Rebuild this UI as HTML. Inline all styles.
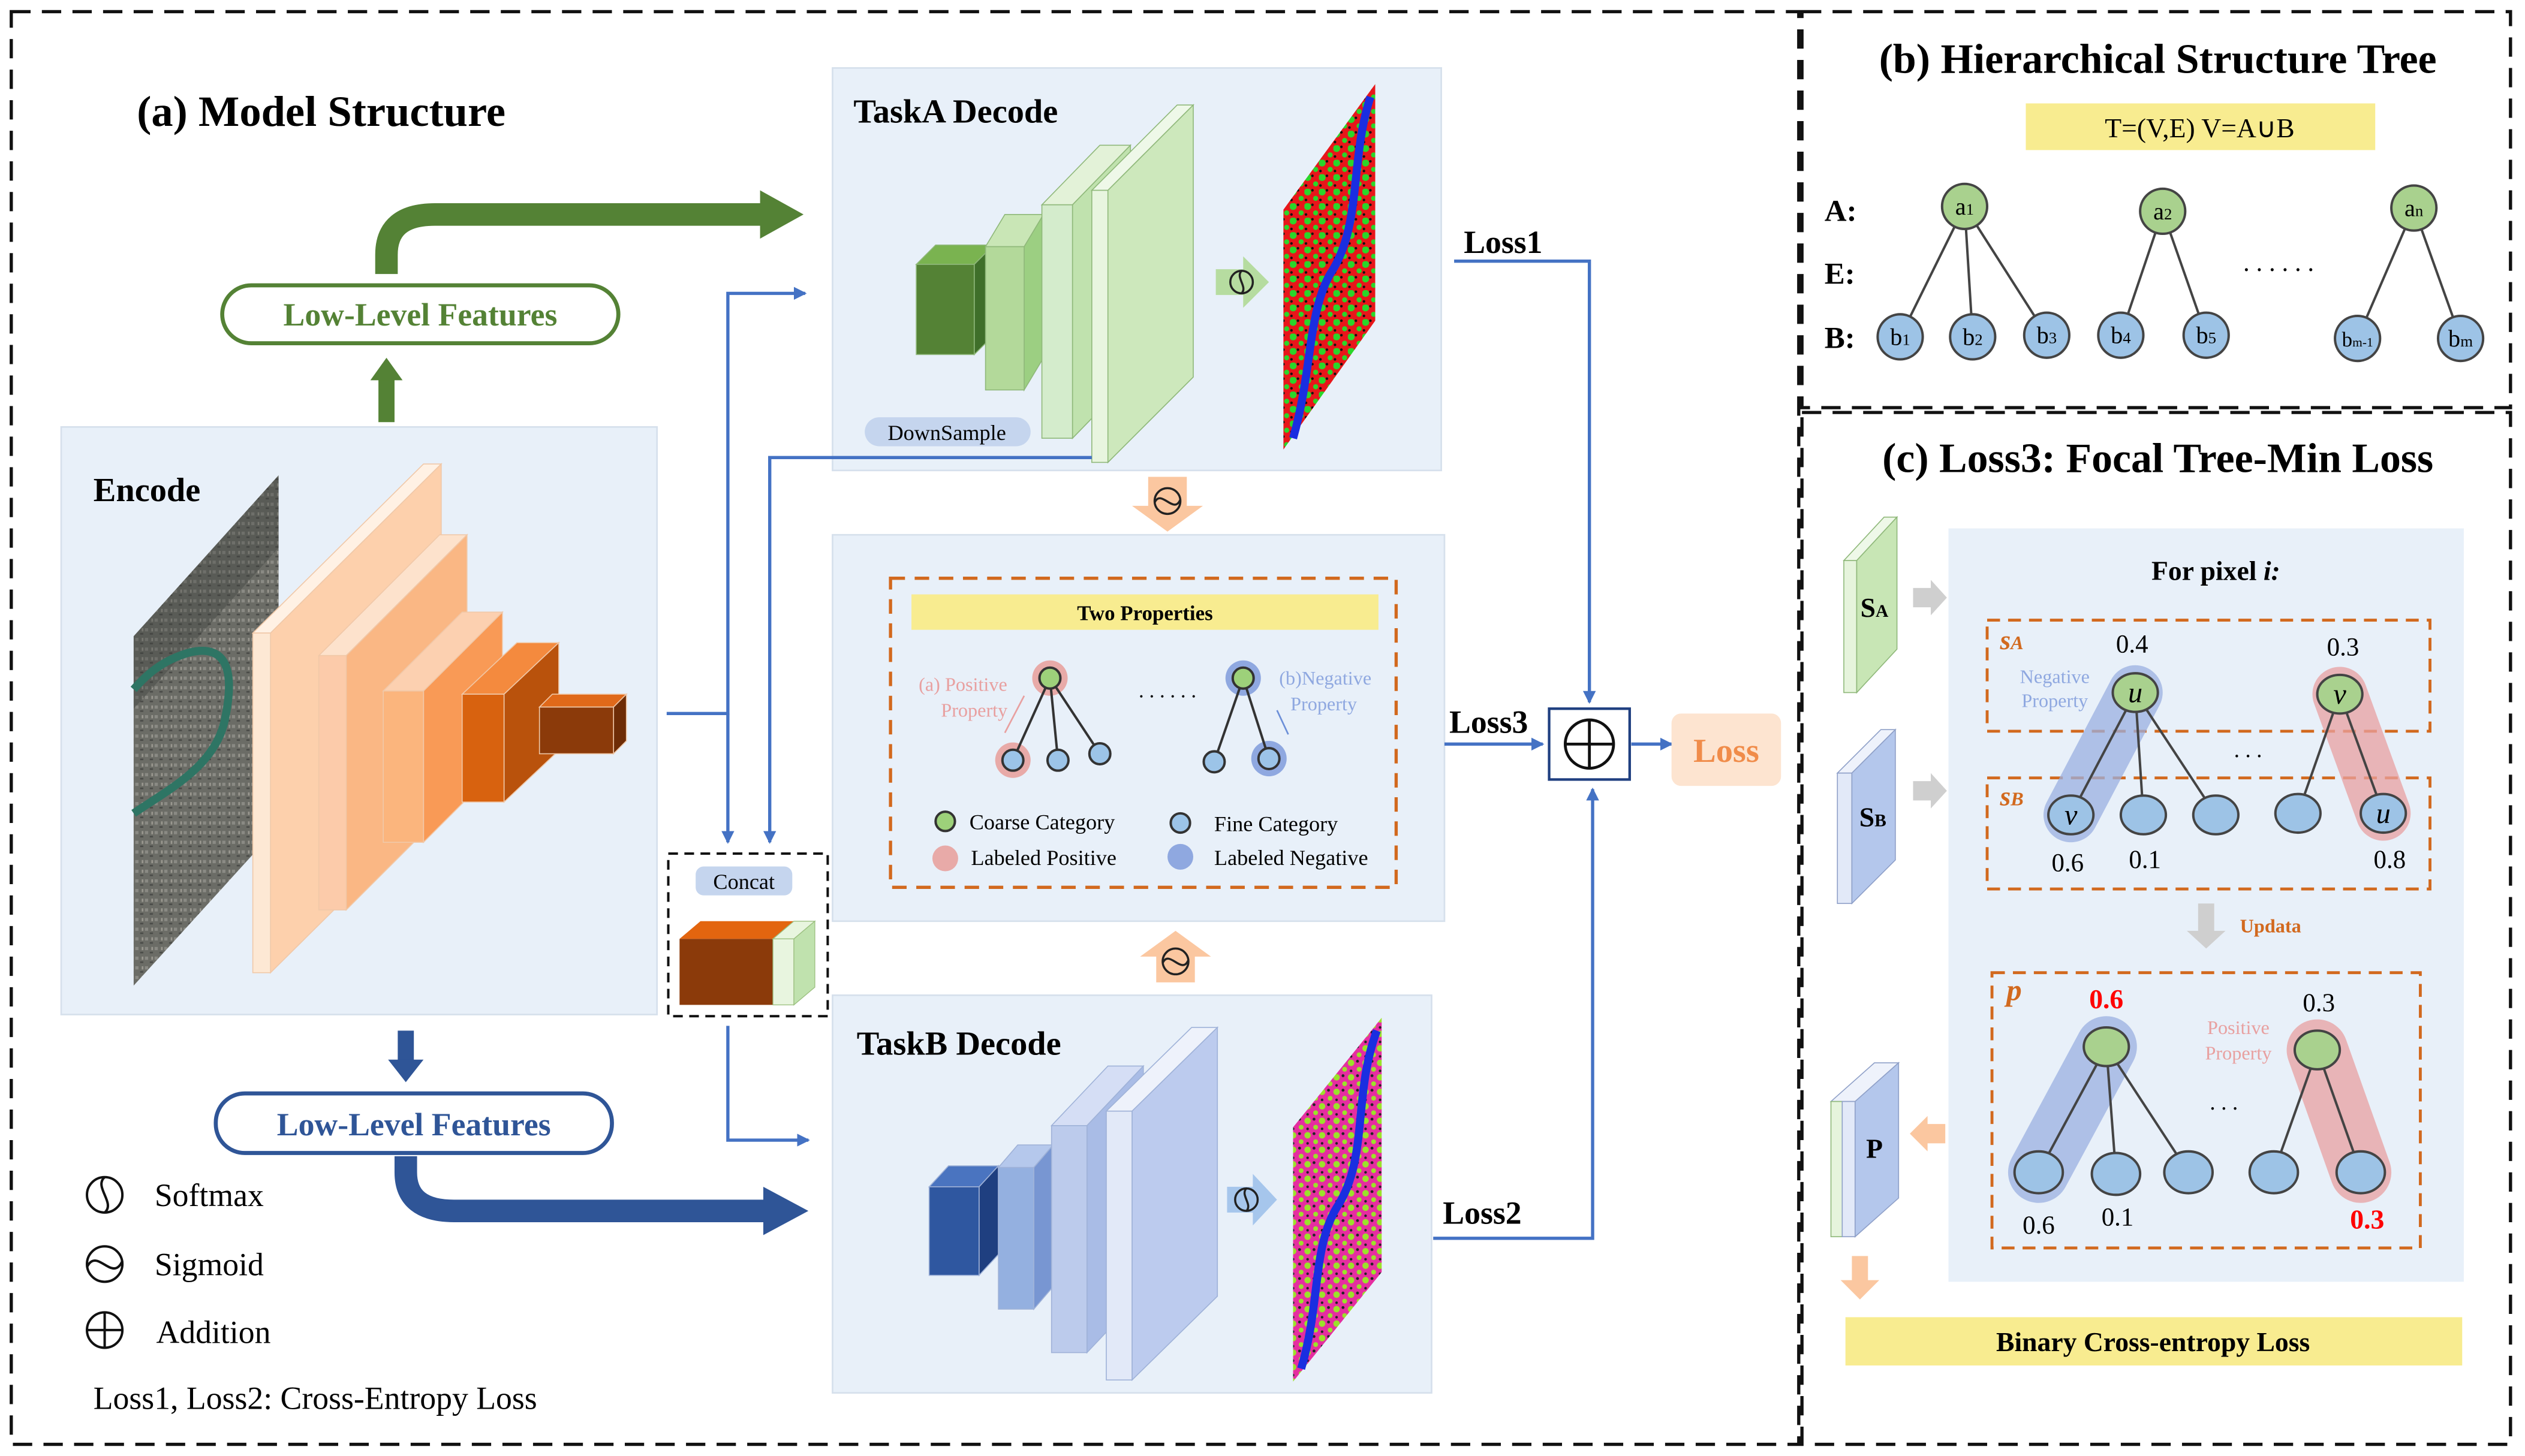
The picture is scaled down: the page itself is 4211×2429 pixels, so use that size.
<!DOCTYPE html>
<html><head><meta charset="utf-8"><style>
html,body{margin:0;padding:0;background:#fff}
svg{display:block}
text{font-family:"Liberation Serif",serif}
</style></head><body>
<svg xmlns="http://www.w3.org/2000/svg" width="4211" height="2429" viewBox="0 0 1568 904">
<defs>
<marker id="ab" markerWidth="8" markerHeight="8" refX="7" refY="4" orient="auto" markerUnits="userSpaceOnUse"><path d="M0,0 L8,4 L0,8 Z" fill="#4472c4"/></marker>
<pattern id="pA" width="9" height="9" patternUnits="userSpaceOnUse">
<rect width="9" height="9" fill="#e8161a"/>
<circle cx="2" cy="2" r="2.2" fill="#2ad62a"/><circle cx="7" cy="6" r="1.6" fill="#2ad62a"/><circle cx="5" cy="1" r=".8" fill="#111"/><circle cx="1" cy="7" r=".8" fill="#111"/>
</pattern>
<pattern id="pB" width="9" height="9" patternUnits="userSpaceOnUse">
<rect width="9" height="9" fill="#e52ea0"/>
<circle cx="2" cy="3" r="2" fill="#9be22a"/><circle cx="7" cy="7" r="1.5" fill="#9be22a"/><circle cx="6" cy="2" r=".9" fill="#222"/><circle cx="2" cy="8" r=".8" fill="#222"/>
</pattern>
<pattern id="pS" width="6" height="6" patternUnits="userSpaceOnUse">
<rect width="6" height="6" fill="#6b6c66"/>
<rect x="0" y="0" width="2" height="2" fill="#8a8a84"/><rect x="3" y="3" width="2" height="1" fill="#4a4b48"/><rect x="4" y="0" width="1" height="2" fill="#9a9890"/>
</pattern>
</defs>
<rect width="1568" height="904" fill="#fff"/>
<rect x="7" y="7" width="1110" height="890" fill="none" stroke="#111" stroke-width="2" stroke-dasharray="12,7"/>
<rect x="1119" y="7" width="440" height="246" fill="none" stroke="#111" stroke-width="2" stroke-dasharray="12,7"/>
<rect x="1119" y="256" width="440" height="641" fill="none" stroke="#111" stroke-width="2" stroke-dasharray="12,7"/>

<text x="85" y="78" font-size="27" font-weight="bold">(a) Model Structure</text>

<rect x="38" y="265" width="370" height="365" fill="#e8f0f9" stroke="#d6e0ec"/>
<rect x="517" y="42" width="378" height="250" fill="#e8f0f9" stroke="#d6e0ec"/>
<rect x="517" y="332" width="380" height="240" fill="#e8f0f9" stroke="#d6e0ec"/>
<rect x="517" y="618" width="372" height="247" fill="#e8f0f9" stroke="#d6e0ec"/>

<text x="58" y="311" font-size="21" font-weight="bold">Encode</text>
<text x="530" y="76" font-size="21" font-weight="bold">TaskA Decode</text>
<text x="532" y="655" font-size="21" font-weight="bold">TaskB Decode</text>

<polygon points="83,395 173,295 173,513 83,612" fill="url(#pS)"/>
<polygon points="83,395 173,295 173,340 83,440" fill="#3a3b38" opacity=".35"/>
<path d="M83,505 C105,490 135,475 140,445 C146,415 140,400 118,405 C100,410 90,420 83,428" fill="none" stroke="#2e7564" stroke-width="5"/>

<g stroke="#f0c8a8" stroke-width=".6">
<polygon points="157,393 263,288 274,288 168,393" fill="#fff1e4"/>
<polygon points="168,393 274,288 274,499 168,604" fill="#fdd0ac"/>
<rect x="157" y="393" width="11" height="211" fill="#fde8d4"/>
<polygon points="198,407 273,332 290,332 215,407" fill="#fde2cc"/>
<polygon points="215,407 290,332 290,490 215,565" fill="#fab784"/>
<rect x="198" y="407" width="17" height="158" fill="#fccbaa"/>
<polygon points="238,429 287,380 312,380 263,429" fill="#fcd0b0"/>
<polygon points="263,429 312,380 312,474 263,523" fill="#f99a56"/>
<rect x="238" y="429" width="25" height="94" fill="#fbb57d"/>
<polygon points="287,431 321,399 347,399 313,431" fill="#f48a3e"/>
<polygon points="313,431 347,399 347,466 313,498" fill="#b9520c"/>
<rect x="287" y="431" width="26" height="67" fill="#d8620f"/>
<polygon points="335,439 343,431 389,431 381,439" fill="#e0691a"/>
<polygon points="381,439 389,431 389,460 381,468" fill="#6e2c06"/>
<rect x="335" y="439" width="46" height="29" fill="#8b3a0a"/>
</g>

<g stroke="#8fb87a" stroke-width=".6">
<polygon points="569,164 581,152 617,152 605,164" fill="#7ab350"/>
<polygon points="605,164 617,152 617,208 605,220" fill="#3f6f2a"/>
<rect x="569" y="164" width="36" height="56" fill="#548235"/>
<polygon points="612,153 624,133 648,133 636,153" fill="#c9e6b6"/>
<polygon points="636,153 648,133 648,222 636,242" fill="#9ccf82"/>
<rect x="612" y="153" width="24" height="89" fill="#b3d99a"/>
<polygon points="647,127 683,90 702,90 666,127" fill="#e3f2d8"/>
<polygon points="666,127 702,90 702,235 666,272" fill="#c0e2ae"/>
<rect x="647" y="127" width="19" height="145" fill="#d4eccc"/>
<polygon points="678,118 731,65 741,65 688,118" fill="#eef8e8"/>
<polygon points="688,118 741,65 741,234 688,287" fill="#cde8bc"/>
<rect x="678" y="118" width="10" height="169" fill="#e8f5df"/>
</g>
<rect x="537" y="259" width="103" height="18" rx="9" fill="#c5d5ee"/>
<text x="588" y="273" font-size="13.5" text-anchor="middle">DownSample</text>

<polygon points="755,167 772,167 772,159 788,175 772,191 772,183 755,183" fill="#b6dca0"/>
<circle cx="771" cy="175" r="7" fill="none" stroke="#222" stroke-width="1.3"/>
<path d="M771,168 C767,172 775,178 771,182" fill="none" stroke="#222" stroke-width="1.3"/>
<polygon points="797,130 854,52 854,199 797,279" fill="url(#pA)"/>
<path d="M851,60 C838,100 846,140 826,170 C812,195 815,230 803,272" fill="none" stroke="#1a2ee0" stroke-width="5"/>

<g stroke="#9fb2d8" stroke-width=".6">
<polygon points="577,737 589,724 620,724 608,737" fill="#4a74c0"/>
<polygon points="608,737 620,724 620,779 608,792" fill="#1f3f80"/>
<rect x="577" y="737" width="31" height="55" fill="#2f57a0"/>
<polygon points="620,725 632,711 654,711 642,725" fill="#b5c8ec"/>
<polygon points="642,725 654,711 654,799 642,813" fill="#7896d2"/>
<rect x="620" y="725" width="22" height="88" fill="#94b0e0"/>
<polygon points="653,699 688,662 710,662 675,699" fill="#d5def5"/>
<polygon points="675,699 710,662 710,803 675,840" fill="#a9bce6"/>
<rect x="653" y="699" width="22" height="141" fill="#bccbec"/>
<polygon points="687,690 740,638 756,638 703,690" fill="#eef2fb"/>
<polygon points="703,690 756,638 756,805 703,857" fill="#bccbee"/>
<rect x="687" y="690" width="16" height="167" fill="#e2e9f8"/>
</g>
<polygon points="762,737 778,737 778,729 793,745 778,761 778,753 762,753" fill="#a6c6ec"/>
<circle cx="774" cy="745" r="7" fill="none" stroke="#222" stroke-width="1.3"/>
<path d="M774,738 C770,742 778,748 774,752" fill="none" stroke="#222" stroke-width="1.3"/>
<polygon points="803,700 858,632 858,790 803,858" fill="url(#pB)"/>
<path d="M855,640 C840,680 850,720 830,750 C815,775 820,810 808,850" fill="none" stroke="#1a2ee0" stroke-width="5"/>

<rect x="415" y="530" width="99" height="101" fill="#fff" stroke="#111" stroke-width="1.5" stroke-dasharray="6,4"/>
<rect x="432" y="538" width="60" height="18" rx="5" fill="#c5d5ee"/>
<text x="462" y="552" font-size="13.5" text-anchor="middle">Concat</text>
<polygon points="422,583 435,572 493,572 480,583" fill="#e3650f"/>
<rect x="422" y="583" width="58" height="41" fill="#8b3a0a"/>
<polygon points="480,583 493,572 506,572 493,583" fill="#e8f5df" stroke="#9cc080" stroke-width=".5"/>
<rect x="480" y="583" width="13" height="41" fill="#e8f5df" stroke="#9cc080" stroke-width=".5"/>
<polygon points="493,583 506,572 506,613 493,624" fill="#c0e2ae" stroke="#9cc080" stroke-width=".5"/>

<g fill="none" stroke="#4472c4" stroke-width="2">
<path d="M414,443 H452 V182 H500" marker-end="url(#ab)"/>
<path d="M452,443 V523" marker-end="url(#ab)"/>
<path d="M678,284 H478 V523" marker-end="url(#ab)"/>
<path d="M452,637 V708 H502" marker-end="url(#ab)"/>
<path d="M903,162 H987 V436" marker-end="url(#ab)"/>
<path d="M897,462 H958" marker-end="url(#ab)"/>
<path d="M890,769 H989 V490" marker-end="url(#ab)"/>
<path d="M1013,462 H1038" marker-end="url(#ab)"/>
</g>
<text x="909" y="157" font-size="20" font-weight="bold">Loss1</text>
<text x="900" y="455" font-size="20" font-weight="bold">Loss3</text>
<text x="896" y="760" font-size="20" font-weight="bold">Loss2</text>
<rect x="962" y="440" width="50" height="44" fill="#fff" stroke="#1f3f80" stroke-width="1.6"/>
<circle cx="987" cy="462" r="15" fill="none" stroke="#111" stroke-width="1.8"/>
<path d="M972,462 H1002 M987,447 V477" stroke="#111" stroke-width="1.8"/>
<rect x="1038" y="443" width="68" height="45" rx="6" fill="#fde4d0"/>
<text x="1072" y="473" font-size="21" font-weight="bold" fill="#f08c4a" text-anchor="middle">Loss</text>

<path d="M240,170 V158 Q240,133 270,133 H475" fill="none" stroke="#548235" stroke-width="14"/>
<polygon points="472,118 499,133 472,148" fill="#548235"/>
<rect x="235" y="234" width="10" height="28" fill="#548235"/>
<polygon points="230,236 240,222 250,236" fill="#548235"/>
<rect x="138" y="177" width="246" height="36" rx="18" fill="#fff" stroke="#548235" stroke-width="2.5"/>
<text x="261" y="202" font-size="20" font-weight="bold" fill="#548235" text-anchor="middle">Low-Level Features</text>
<rect x="247" y="640" width="10" height="22" fill="#2f5597"/>
<polygon points="241,658 252,672 263,658" fill="#2f5597"/>
<path d="M252,718 V728 Q252,752 282,752 H477" fill="none" stroke="#2f5597" stroke-width="14"/>
<polygon points="474,737 502,752 474,767" fill="#2f5597"/>
<rect x="134" y="679" width="246" height="37" rx="18" fill="#fff" stroke="#2f5597" stroke-width="2.5"/>
<text x="257" y="705" font-size="20" font-weight="bold" fill="#2f5597" text-anchor="middle">Low-Level Features</text>

<polygon points="713,296 737,296 737,314 747,314 725,330 703,314 713,314" fill="#fbc7a0"/>
<circle cx="725" cy="311" r="8" fill="none" stroke="#222" stroke-width="1.3"/>
<path d="M717,312 C721,303 729,320 733,310" fill="none" stroke="#222" stroke-width="1.3"/>
<polygon points="730,578 752,594 742,594 742,610 718,610 718,594 708,594" fill="#fbc7a0"/>
<circle cx="730" cy="597" r="8" fill="none" stroke="#222" stroke-width="1.3"/>
<path d="M722,598 C726,589 734,606 738,596" fill="none" stroke="#222" stroke-width="1.3"/>

<rect x="553" y="359" width="314" height="192" fill="none" stroke="#d2691e" stroke-width="2" stroke-dasharray="9,6"/>
<rect x="566" y="369" width="290" height="22" fill="#f8ec90"/>
<text x="711" y="385" font-size="13" font-weight="bold" text-anchor="middle">Two Properties</text>
<circle cx="652" cy="421" r="11" fill="#e8aaa8"/>
<circle cx="629" cy="472" r="11" fill="#e8aaa8"/>
<circle cx="772" cy="421" r="11" fill="#8fa8e0"/>
<circle cx="788" cy="471" r="11" fill="#8fa8e0"/>
<g stroke="#333" stroke-width="1.5">
<path d="M652,421 L629,472 M652,421 L657,472 M652,421 L683,468 M772,421 L754,473 M772,421 L788,471"/>
<circle cx="652" cy="421" r="6.5" fill="#9dd17a"/>
<circle cx="629" cy="472" r="6.5" fill="#9cc4e8"/>
<circle cx="657" cy="472" r="6.5" fill="#9cc4e8"/>
<circle cx="683" cy="468" r="6.5" fill="#9cc4e8"/>
<circle cx="772" cy="421" r="6.5" fill="#9dd17a"/>
<circle cx="754" cy="473" r="6.5" fill="#9cc4e8"/>
<circle cx="788" cy="471" r="6.5" fill="#9cc4e8"/>
</g>
<path d="M624,455 L636,432" stroke="#e8a0a0" stroke-width="1"/>
<path d="M793,441 L800,456" stroke="#6c8fd8" stroke-width="1"/>
<text x="725" y="433" font-size="13" text-anchor="middle">. . . . . .</text>
<text x="598" y="429" font-size="12" fill="#e8a0a0" text-anchor="middle">(a) Positive</text>
<text x="605" y="445" font-size="12" fill="#e8a0a0" text-anchor="middle">Property</text>
<text x="823" y="425" font-size="12" fill="#8fa8e0" text-anchor="middle">(b)Negative</text>
<text x="822" y="441" font-size="12" fill="#8fa8e0" text-anchor="middle">Property</text>
<circle cx="587" cy="510" r="6" fill="#9dd17a" stroke="#333" stroke-width="1.5"/>
<text x="602" y="515" font-size="13.5">Coarse Category</text>
<circle cx="733" cy="511" r="6" fill="#9cc4e8" stroke="#333" stroke-width="1.5"/>
<text x="754" y="516" font-size="13.5">Fine Category</text>
<circle cx="587" cy="533" r="8" fill="#e8aaa8"/>
<text x="603" y="537" font-size="13.5">Labeled Positive</text>
<circle cx="733" cy="532" r="8" fill="#8fa8e0"/>
<text x="754" y="537" font-size="13.5">Labeled Negative</text>

<circle cx="65" cy="742" r="11" fill="none" stroke="#111" stroke-width="1.5"/>
<path d="M65,731 C58,737 72,747 65,753" fill="none" stroke="#111" stroke-width="1.5"/>
<text x="96" y="749" font-size="20">Softmax</text>
<circle cx="65" cy="785" r="11" fill="none" stroke="#111" stroke-width="1.5"/>
<path d="M54,787 C60,774 70,797 76,783" fill="none" stroke="#111" stroke-width="1.5"/>
<text x="96" y="792" font-size="20">Sigmoid</text>
<circle cx="65" cy="826" r="11" fill="none" stroke="#111" stroke-width="1.5"/>
<path d="M54,826 H76 M65,815 V837" stroke="#111" stroke-width="1.5"/>
<text x="97" y="834" font-size="20">Addition</text>
<text x="58" y="875" font-size="20">Loss1, Loss2: Cross-Entropy Loss</text>

<text x="1340" y="45" font-size="26" font-weight="bold" text-anchor="middle">(b) Hierarchical Structure Tree</text>
<rect x="1258" y="64" width="217" height="29" fill="#f8ec90"/>
<text x="1366" y="85" font-size="17" text-anchor="middle" font-family="Liberation Sans, sans-serif">T=(V,E)    V=A∪B</text>
<text x="1133" y="137" font-size="19" font-weight="bold">A:</text>
<text x="1133" y="176" font-size="19" font-weight="bold">E:</text>
<text x="1133" y="216" font-size="19" font-weight="bold">B:</text>
<g stroke="#444" stroke-width="1.5">
<path d="M1220,128 L1180,209 M1220,128 L1225,209 M1220,128 L1271,208 M1343,131 L1317,208 M1343,131 L1370,208 M1499,129 L1464,210 M1499,129 L1528,210"/>
<g fill="#a9d18e"><circle cx="1220" cy="128" r="14"/><circle cx="1343" cy="131" r="14"/><circle cx="1499" cy="129" r="14"/></g>
<g fill="#9dc3e6"><circle cx="1180" cy="209" r="14"/><circle cx="1225" cy="209" r="14"/><circle cx="1271" cy="208" r="14"/><circle cx="1317" cy="208" r="14"/><circle cx="1370" cy="208" r="14"/><circle cx="1464" cy="210" r="14"/><circle cx="1528" cy="210" r="14"/></g>
</g>
<g font-size="15" text-anchor="middle">
<text x="1220" y="133">a<tspan font-size="10">1</tspan></text>
<text x="1343" y="136">a<tspan font-size="10">2</tspan></text>
<text x="1499" y="134">a<tspan font-size="10">n</tspan></text>
<text x="1180" y="214">b<tspan font-size="10">1</tspan></text>
<text x="1225" y="214">b<tspan font-size="10">2</tspan></text>
<text x="1271" y="213">b<tspan font-size="10">3</tspan></text>
<text x="1317" y="213">b<tspan font-size="10">4</tspan></text>
<text x="1370" y="213">b<tspan font-size="10">5</tspan></text>
<text x="1464" y="215" font-size="13">b<tspan font-size="8">m-1</tspan></text>
<text x="1528" y="215">b<tspan font-size="10">m</tspan></text>
</g>
<text x="1415" y="168" font-size="16" text-anchor="middle">. . . . . .</text>

<text x="1340" y="293" font-size="26" font-weight="bold" text-anchor="middle">(c) Loss3: Focal Tree-Min Loss</text>
<rect x="1210" y="328" width="320" height="468" fill="#e8f0f9"/>
<polygon points="1145,348 1170,321 1178,321 1153,348" fill="#eef8e8" stroke="#8fb87a" stroke-width=".6"/>
<rect x="1145" y="348" width="8" height="82" fill="#e6f4dc" stroke="#8fb87a" stroke-width=".6"/>
<polygon points="1153,348 1178,321 1178,403 1153,430" fill="#c8e6b5" stroke="#8fb87a" stroke-width=".6"/>
<text x="1164" y="383" font-size="17" font-weight="bold" text-anchor="middle">S<tspan font-size="11">A</tspan></text>
<polygon points="1141,480 1168,453 1177,453 1150,480" fill="#eef2fb" stroke="#8fa0c8" stroke-width=".6"/>
<rect x="1141" y="480" width="9" height="81" fill="#e2e9f8" stroke="#8fa0c8" stroke-width=".6"/>
<polygon points="1150,480 1177,453 1177,534 1150,561" fill="#b4c7ec" stroke="#8fa0c8" stroke-width=".6"/>
<text x="1163" y="513" font-size="17" font-weight="bold" text-anchor="middle">S<tspan font-size="11">B</tspan></text>
<polygon points="1137,684 1164,660 1179,660 1152,684" fill="#eef2fb" stroke="#8fa0c8" stroke-width=".6"/>
<rect x="1137" y="684" width="7" height="84" fill="#e6f4dc" stroke="#8fb87a" stroke-width=".6"/>
<rect x="1144" y="684" width="8" height="84" fill="#e2e9f8" stroke="#8fa0c8" stroke-width=".6"/>
<polygon points="1152,684 1179,660 1179,744 1152,768" fill="#b4c7ec" stroke="#8fa0c8" stroke-width=".6"/>
<text x="1164" y="719" font-size="17" font-weight="bold" text-anchor="middle">P</text>
<polygon points="1188,365 1199,365 1199,360 1209,371 1199,382 1199,377 1188,377" fill="#cfcfcf"/>
<polygon points="1188,485 1199,485 1199,480 1209,491 1199,502 1199,497 1188,497" fill="#cfcfcf"/>
<polygon points="1208,698 1197,698 1197,693 1186,704 1197,715 1197,710 1208,710" fill="#fbc7a0"/>
<polygon points="1150,780 1160,780 1160,795 1167,795 1155,807 1143,795 1150,795" fill="#fbc7a0"/>
<polygon points="1365,561 1375,561 1375,578 1382,578 1370,589 1358,578 1365,578" fill="#cfcfcf"/>
<text x="1391" y="579" font-size="12" font-weight="bold" fill="#d2691e">Updata</text>

<text x="1376" y="360" font-size="17" font-weight="bold" text-anchor="middle">For pixel <tspan font-style="italic">i:</tspan></text>
<rect x="1234" y="385" width="275" height="69" fill="none" stroke="#d2691e" stroke-width="1.8" stroke-dasharray="8,5"/>
<rect x="1234" y="483" width="275" height="69" fill="none" stroke="#d2691e" stroke-width="1.8" stroke-dasharray="8,5"/>
<rect x="1237" y="604" width="266" height="171" fill="none" stroke="#d2691e" stroke-width="1.8" stroke-dasharray="8,5"/>
<text x="1242" y="403" font-size="17" font-weight="bold" font-style="italic" fill="#d2691e">s<tspan font-size="12">A</tspan></text>
<text x="1242" y="500" font-size="17" font-weight="bold" font-style="italic" fill="#d2691e">s<tspan font-size="12">B</tspan></text>
<text x="1246" y="621" font-size="19" font-weight="bold" font-style="italic" fill="#d2691e">p</text>

<g fill="none" stroke-linecap="round" stroke-linejoin="round" opacity=".75">
<path d="M1326,430 L1286,506" stroke="#9bb0e0" stroke-width="34"/>
<path d="M1453,431 L1480,505" stroke="#e8a0a0" stroke-width="34"/>
<path d="M1308,650 L1266,728" stroke="#9bb0e0" stroke-width="38"/>
<path d="M1439,652 L1466,728" stroke="#e8a0a0" stroke-width="38"/>
</g>
<g stroke="#444" stroke-width="1.5">
<path d="M1326,430 L1286,506 M1326,430 L1331,506 M1326,430 L1376,506 M1453,431 L1427,505 M1453,431 L1480,505"/>
<path d="M1308,650 L1266,728 M1308,650 L1314,729 M1308,650 L1359,728 M1439,652 L1412,728 M1439,652 L1466,728"/>
<g fill="#a9d18e"><ellipse cx="1326" cy="430" rx="14" ry="12"/><ellipse cx="1453" cy="431" rx="14" ry="12"/><ellipse cx="1308" cy="650" rx="14" ry="12"/><ellipse cx="1439" cy="652" rx="14" ry="12"/></g>
<g fill="#9dc3e6"><ellipse cx="1286" cy="506" rx="14" ry="12"/><ellipse cx="1331" cy="506" rx="14" ry="12"/><ellipse cx="1376" cy="506" rx="14" ry="12"/><ellipse cx="1427" cy="505" rx="14" ry="12"/><ellipse cx="1480" cy="505" rx="14" ry="12"/>
<ellipse cx="1266" cy="728" rx="15" ry="13"/><ellipse cx="1314" cy="729" rx="15" ry="13"/><ellipse cx="1359" cy="728" rx="15" ry="13"/><ellipse cx="1412" cy="728" rx="15" ry="13"/><ellipse cx="1466" cy="728" rx="15" ry="13"/></g>
</g>
<g font-size="18" font-style="italic" text-anchor="middle">
<text x="1326" y="436">u</text><text x="1453" y="437">v</text><text x="1286" y="512">v</text><text x="1480" y="511">u</text>
</g>
<g font-size="16" text-anchor="middle">
<text x="1324" y="405">0.4</text><text x="1455" y="407">0.3</text>
<text x="1284" y="541">0.6</text><text x="1332" y="539">0.1</text><text x="1484" y="539">0.8</text>
<text x="1440" y="628">0.3</text><text x="1266" y="766">0.6</text><text x="1315" y="761">0.1</text>
</g>
<text x="1308" y="626" font-size="17" font-weight="bold" fill="#ff0000" text-anchor="middle">0.6</text>
<text x="1470" y="763" font-size="17" font-weight="bold" fill="#ff0000" text-anchor="middle">0.3</text>
<text x="1276" y="424" font-size="12" fill="#8fa8e0" text-anchor="middle">Negative</text>
<text x="1276" y="439" font-size="12" fill="#8fa8e0" text-anchor="middle">Property</text>
<text x="1390" y="642" font-size="12" fill="#e8a0a0" text-anchor="middle">Positive</text>
<text x="1390" y="658" font-size="12" fill="#e8a0a0" text-anchor="middle">Property</text>
<text x="1396" y="470" font-size="14" text-anchor="middle">. . .</text>
<text x="1381" y="689" font-size="14" text-anchor="middle">. . .</text>

<rect x="1146" y="818" width="383" height="30" fill="#f8ec90"/>
<text x="1337" y="839" font-size="17" font-weight="bold" text-anchor="middle">Binary Cross-entropy Loss</text>
</svg>
</body></html>
